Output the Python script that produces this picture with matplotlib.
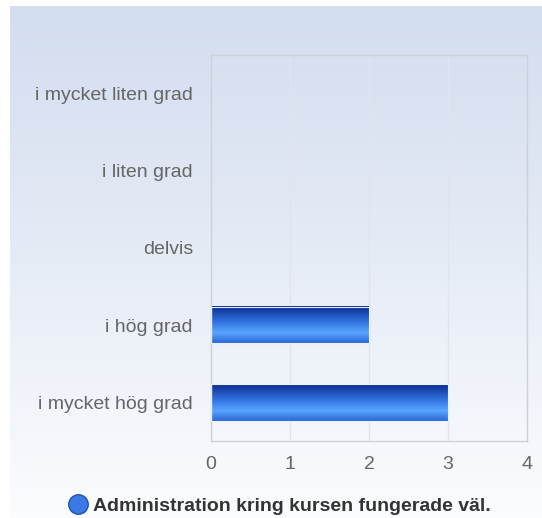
import numpy as np
import matplotlib
matplotlib.use("Agg")
import matplotlib.pyplot as plt
from matplotlib.colors import LinearSegmentedColormap
from matplotlib.lines import Line2D

categories = ["i mycket hög grad", "i hög grad", "delvis", "i liten grad", "i mycket liten grad"]
values = [3, 2, 0, 0, 0]
xticks = [0, 1, 2, 3, 4]
legend_label = "Administration kring kursen fungerade väl."

W, H = 542, 518
fig = plt.figure(figsize=(W / 100, H / 100), dpi=100)
plt.rcParams['font.family'] = ['Liberation Sans', 'DejaVu Sans']

# background gradient
bg = fig.add_axes([10 / W, 0, 1 - 10 / W, 1 - 6 / H])
bg.set_axis_off()
bgcmap = LinearSegmentedColormap.from_list("bg", ["#d2ddef", "#e6ecf6", "#fbfcfe"])
bg.imshow(np.linspace(0, 1, 256).reshape(-1, 1), aspect="auto", cmap=bgcmap,
          extent=[0, 1, 0, 1], origin="upper")
bg.set_xlim(0, 1); bg.set_ylim(0, 1)

left, right, top, bottom = 211, 527, 55, 441
ax = fig.add_axes([left / W, 1 - bottom / H, (right - left) / W, (bottom - top) / H])
ax.patch.set_alpha(0)
y = np.arange(len(categories))
bars = ax.barh(y, values, height=0.47, color="none", edgecolor="#e8f0ff", linewidth=0.8, zorder=3)

barcmap = LinearSegmentedColormap.from_list(
    "bar", [(0, "#2a66d6"), (0.28, "#5aa6ff"), (0.55, "#3477e4"), (1.0, "#0a2b8c")])
grad = np.linspace(0, 1, 256).reshape(-1, 1)
for b in bars:
    w = b.get_width()
    if w <= 0:
        b.set_linewidth(0)
        continue
    x0, y0, h = b.get_x(), b.get_y(), b.get_height()
    ax.imshow(grad, aspect="auto", cmap=barcmap, extent=[x0, x0 + w, y0, y0 + h],
              origin="lower", zorder=2, interpolation="bilinear")
ax.set_xlim(0, 4)
ax.set_ylim(-0.5, len(categories) - 0.5)

ax.set_xticks(xticks)
ax.set_xticklabels([str(t) for t in xticks])
ax.set_yticks(y)
ax.set_yticklabels(categories)
ax.tick_params(axis="both", length=0, labelsize=14, labelcolor="#666666")
ax.tick_params(axis="y", pad=13)
ax.tick_params(axis="x", pad=11)
ax.grid(axis="x", color="#e1e4ec", linewidth=1, zorder=0)
for s in ax.spines.values():
    s.set_color("#cdd1d8")
    s.set_linewidth(1)

# legend
handle = Line2D([], [], marker="o", linestyle="none", markersize=14,
                markerfacecolor="#3b7ae6", markeredgecolor="#1f4fb8")
fig.legend([handle], [legend_label], loc="center", bbox_to_anchor=(0.516, 1 - 506 / H),
           frameon=False, handletextpad=0.3, prop={"weight": "bold", "size": 14},
           labelcolor="#333333", handlelength=1.0)

fig.savefig("out.png", dpi=100)
